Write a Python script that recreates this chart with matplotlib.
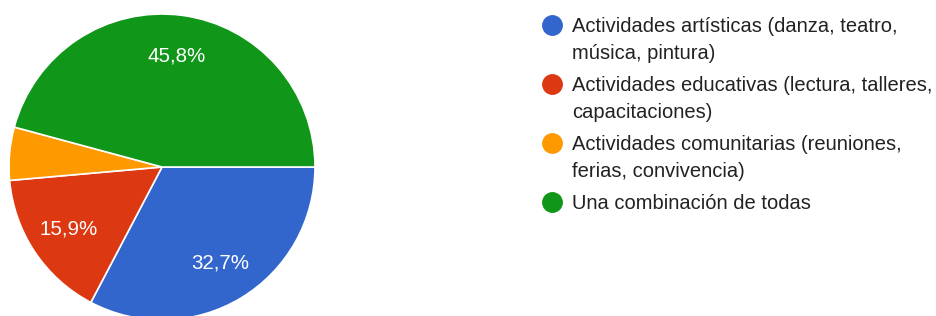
import matplotlib
matplotlib.use("Agg")
import matplotlib.pyplot as plt
from matplotlib.lines import Line2D

plt.rcParams["font.family"] = ["Liberation Sans", "DejaVu Sans"]

categories = [
    "Actividades artísticas (danza, teatro,\nmúsica, pintura)",
    "Actividades educativas (lectura, talleres,\ncapacitaciones)",
    "Actividades comunitarias (reuniones,\nferias, convivencia)",
    "Una combinación de todas",
]
values = [32.7, 15.9, 5.6, 45.8]
colors = ["#3366cc", "#dc3912", "#ff9900", "#109618"]

W, H = 937, 316
fig = plt.figure(figsize=(W / 100, H / 100), dpi=100)

# pie centred at (162, 167) px, radius 153 px (bottom runs off the image)
cx, cy, r = 162, 167, 153
ax = fig.add_axes([(cx - r) / W, (H - cy - r) / H, 2 * r / W, 2 * r / H])


def pct(p):
    return f"{p:.1f}%".replace(".", ",") if p >= 8 else ""


wedges, _, autotexts = ax.pie(
    values, colors=colors, startangle=0, counterclock=False,
    autopct=pct, pctdistance=0.73, radius=1,
    wedgeprops=dict(edgecolor="white", linewidth=1.2),
    textprops=dict(color="white", fontsize=14.8),
)
ax.set_xlim(-1, 1)
ax.set_ylim(-1, 1)
ax.set_aspect("equal")
ax.axis("off")

# legend drawn by hand so the dot lines up with the first text line
y0, step, line_h = 25, 59, 27
for i, (lab, c) in enumerate(zip(categories, colors)):
    yd = y0 + step * i
    fig.add_artist(Line2D([552 / W], [1 - yd / H], marker="o", ls="", color=c,
                          markersize=14, transform=fig.transFigure))
    # va="baseline" anchors the last line, so shift down by the extra lines
    yb = yd + 7 + line_h * lab.count("\n")
    fig.text(572 / W, 1 - yb / H, lab, ha="left", va="baseline",
             fontsize=14.5, color="#222222", linespacing=1.55,
             transform=fig.transFigure)

fig.savefig("out.png", dpi=100, facecolor="white")
